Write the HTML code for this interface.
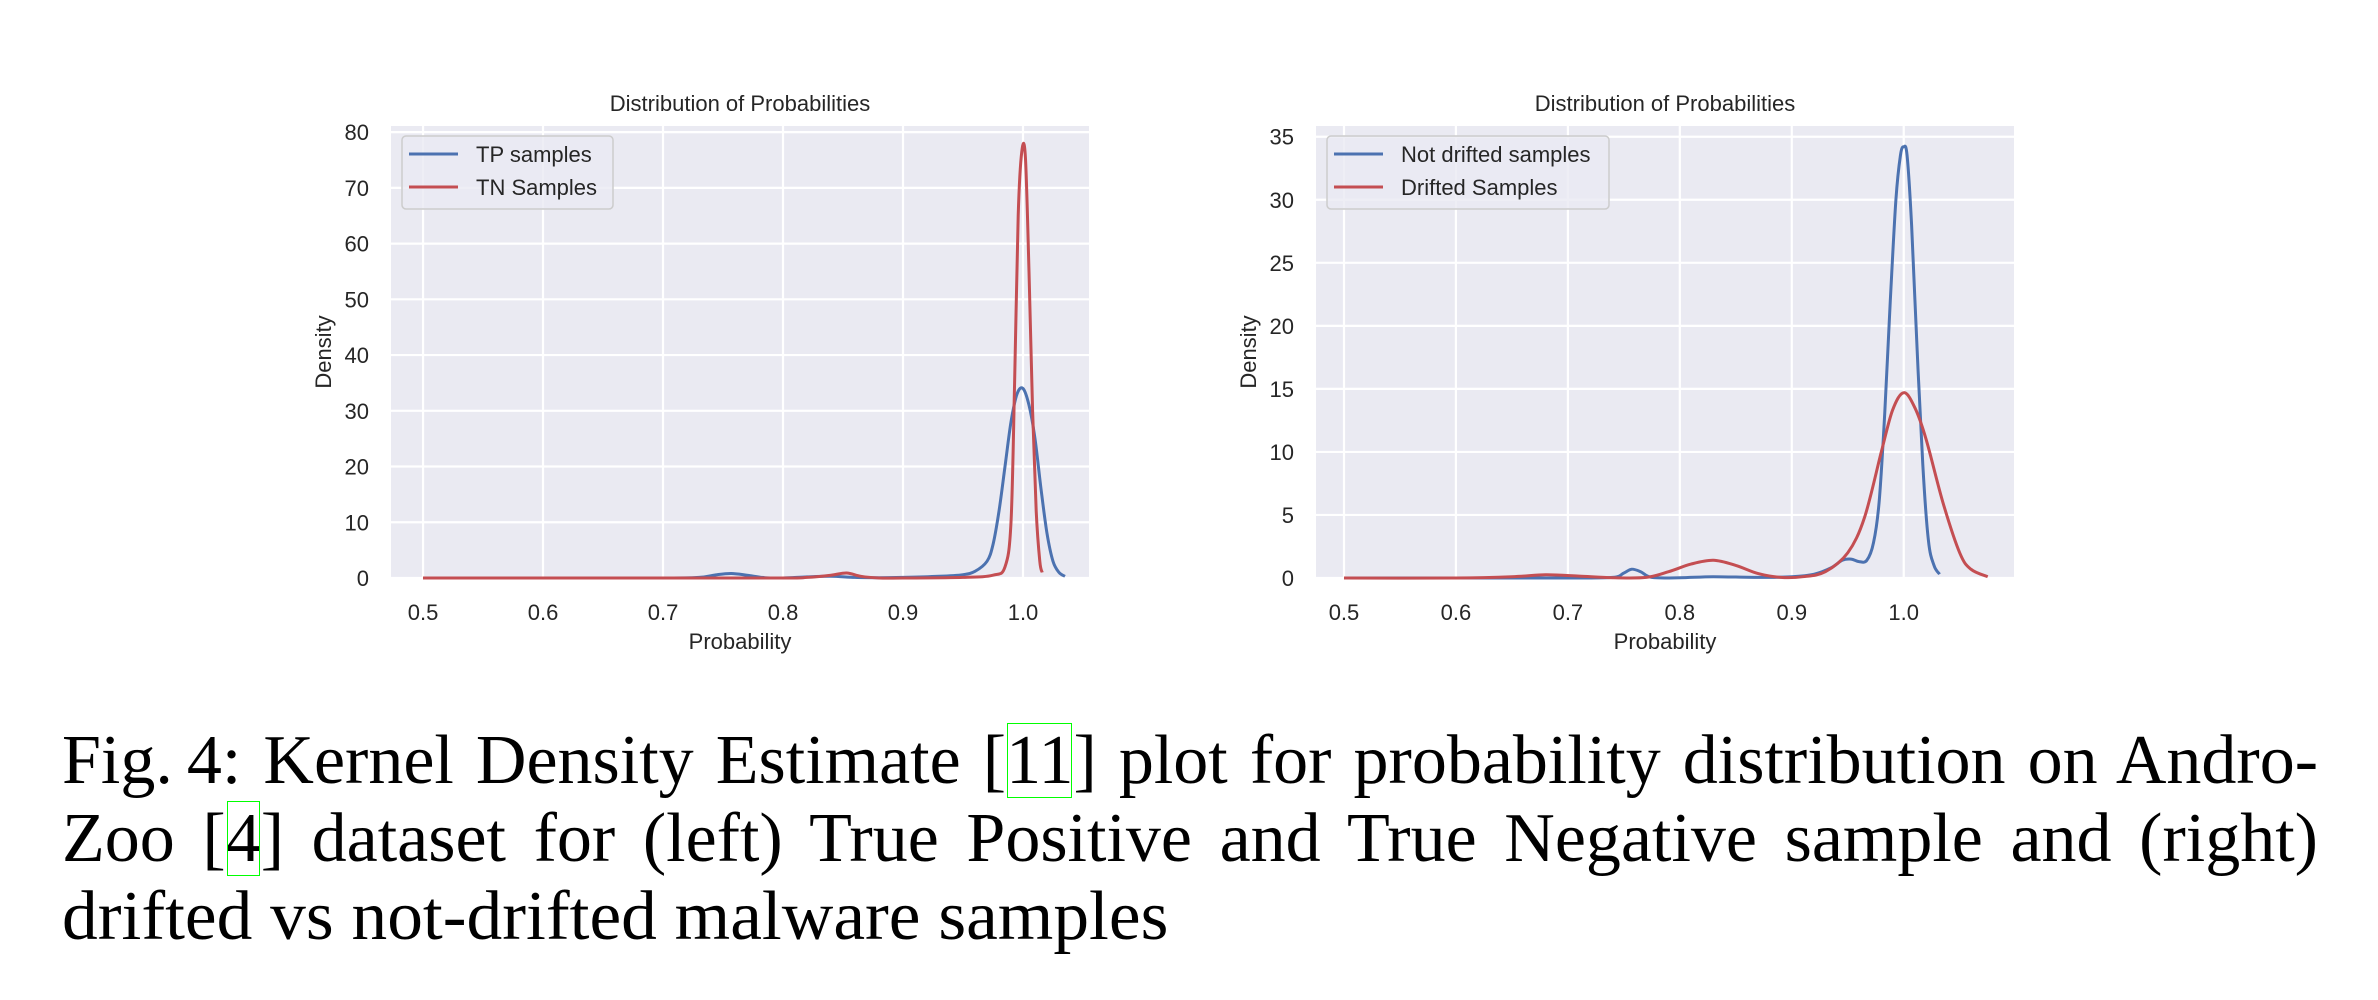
<!DOCTYPE html>
<html><head><meta charset="utf-8"><style>
html,body{margin:0;padding:0;background:#fff;width:2378px;height:1000px;overflow:hidden}
svg text{font-family:"Liberation Sans",sans-serif;fill:#262626}
.cap{position:absolute;left:62px;width:2256px;font-family:"Liberation Serif",serif;font-size:70px;color:#000;white-space:nowrap;line-height:1}
.j{text-align:justify;text-align-last:justify}
.ref{outline:1.5px solid #00ff00;outline-offset:-2px}
</style></head><body>
<svg id="fig" width="2378" height="660" style="position:absolute;left:0;top:0"></svg>
<div class="cap j" style="top:726px">Fig.&#8201;4: Kernel Density Estimate [<span class="ref">11</span>] plot for probability distribution on Andro-</div>
<div class="cap j" style="top:804px">Zoo [<span class="ref">4</span>] dataset for (left) True Positive and True Negative sample and (right)</div>
<div class="cap" style="top:882px;width:auto;transform:scaleX(1.02);transform-origin:0 0">drifted vs not-drifted malware samples</div>
<script>
// Left chart data
const leftXTicks=[0.5,0.6,0.7,0.8,0.9,1.0];
const leftYTicks=[0,10,20,30,40,50,60,70,80];
const tpX=[0.5,0.6,0.7,0.73,0.745,0.757,0.77,0.785,0.8,0.82,0.84,0.86,0.88,0.9,0.93,0.95,0.96,0.97,0.975,0.98,0.985,0.99,0.995,1.0,1.005,1.01,1.015,1.02,1.025,1.03,1.035];
const tpY=[0,0,0,0.1,0.6,0.8,0.5,0.05,0,0.2,0.3,0.1,0.05,0.1,0.3,0.6,1.2,3,6,12,20,28,33,34,31,25,16,8,3,1,0.3];
const tnX=[0.5,0.6,0.7,0.8,0.82,0.84,0.853,0.865,0.88,0.9,0.95,0.975,0.985,0.99,0.993,0.996,0.999,1.002,1.005,1.008,1.011,1.014,1.016];
const tnY=[0,0,0,0,0.1,0.5,0.9,0.3,0,0,0.1,0.5,2,10,35,65,76.5,75.5,55,30,12,3,1];
// Right chart data
const rightXTicks=[0.5,0.6,0.7,0.8,0.9,1.0];
const rightYTicks=[0,5,10,15,20,25,30,35];
const ndX=[0.5,0.6,0.7,0.74,0.75,0.757,0.765,0.775,0.8,0.83,0.87,0.9,0.92,0.935,0.945,0.953,0.96,0.967,0.973,0.978,0.983,0.988,0.993,0.997,1.0,1.003,1.007,1.012,1.017,1.022,1.027,1.032];
const ndY=[0,0,0,0.05,0.4,0.7,0.5,0.05,0.02,0.1,0.05,0.1,0.3,0.8,1.4,1.5,1.3,1.4,2.8,6,13,22,30,33.5,34.2,33.5,28,18,9,3,1,0.3];
const drX=[0.5,0.6,0.65,0.68,0.71,0.74,0.77,0.79,0.81,0.83,0.85,0.87,0.89,0.91,0.93,0.95,0.965,0.98,0.99,1.0,1.01,1.02,1.035,1.05,1.06,1.075];
const drY=[0,0,0.1,0.25,0.15,0.02,0.05,0.5,1.1,1.4,1.0,0.35,0.05,0.1,0.5,2,4.8,10,13.3,14.7,13.5,11,6,2,0.7,0.1];

const NS='http://www.w3.org/2000/svg';
const svg=document.getElementById('fig');
function mk(tag,attrs,parent){const e=document.createElementNS(NS,tag);for(const k in attrs)e.setAttribute(k,attrs[k]);(parent||svg).appendChild(e);return e;}
function path(xs,ys,sx,sy){const p=xs.map((x,i)=>[sx(x),sy(ys[i])]);let d='M'+p[0][0].toFixed(1)+','+p[0][1].toFixed(1);
 for(let i=0;i<p.length-1;i++){const p0=p[i-1]||p[i],p1=p[i],p2=p[i+1],p3=p[i+2]||p2;
  const c1=[p1[0]+(p2[0]-p0[0])/6,p1[1]+(p2[1]-p0[1])/6],c2=[p2[0]-(p3[0]-p1[0])/6,p2[1]-(p3[1]-p1[1])/6];
  d+=' C'+c1.map(v=>v.toFixed(1))+' '+c2.map(v=>v.toFixed(1))+' '+p2.map(v=>v.toFixed(1));}
 return d;}
function chart(o){
 const g=mk('g',{});
 
 
 const sx=x=>o.L+(x-o.xmin)/(o.xmax-o.xmin)*(o.R-o.L);
 const sy=y=>o.B-(y/o.ymax)*(o.B-o.T);
 const bg=mk('rect',{x:o.L,y:o.T,width:o.R-o.L,height:o.B-o.T,fill:'#eaeaf2'},g);
 
 
 o.xt.forEach(t=>{const l=mk('line',{x1:sx(t),x2:sx(t),y1:o.T,y2:o.B,stroke:'#fff','stroke-width':2.2},g);
  
  
  const tx=mk('text',{x:sx(t),y:620,'text-anchor':'middle','font-size':22},g);tx.textContent=t.toFixed(1);
  
  });
 o.yt.forEach(t=>{const l=mk('line',{x1:o.L,x2:o.R,y1:sy(t),y2:sy(t),stroke:'#fff','stroke-width':2.2},g);
  
  
  const tx=mk('text',{x:o.L-22,y:sy(t)+8,'text-anchor':'end','font-size':22},g);tx.textContent=t;
  
  });
 o.series.forEach(s=>{const p=mk('path',{d:path(s.x,s.y,sx,sy),fill:'none',stroke:s.c,'stroke-width':3,'stroke-linejoin':'round'},g);
  
  });
 const t=mk('text',{x:(o.L+o.R)/2,y:111,'text-anchor':'middle','font-size':22},g);t.textContent='Distribution of Probabilities';
 
 
 const xl=mk('text',{x:(o.L+o.R)/2,y:649,'text-anchor':'middle','font-size':22},g);xl.textContent='Probability';
 
 
 const yl=mk('text',{x:0,y:0,'text-anchor':'middle','font-size':22,transform:'translate('+(o.ylx)+','+((o.T+o.B)/2)+') rotate(-90)'},g);yl.textContent='Density';
 
 
 const lg=mk('g',{},g);
 
 
 mk('rect',{x:o.L+11,y:136,width:o.lw,height:73,rx:4,fill:'#eaeaf2','fill-opacity':0.8,stroke:'#cccccc','stroke-width':1.5},lg);
 o.series.forEach((s,i)=>{const y=154+i*33;
  const e=mk('g',{},lg);
  
  
  mk('line',{x1:o.L+18,x2:o.L+67,y1:y,y2:y,stroke:s.c,'stroke-width':3},e);
  const tx=mk('text',{x:o.L+85,y:y+8,'font-size':22},e);tx.textContent=s.label;});
}
chart({name:'left-chart',L:391,R:1089,T:126,B:578,xmin:0.4733,xmax:1.055,ymax:81.1,xt:leftXTicks,yt:leftYTicks,ylx:331,lw:211,
 series:[{x:tpX,y:tpY,c:'#4c72b0',label:'TP samples',name:'tp-line'},{x:tnX,y:tnY,c:'#c44e52',label:'TN Samples',name:'tn-line'}]});
chart({name:'right-chart',L:1316,R:2014,T:126,B:578,xmin:0.475,xmax:1.0985,ymax:35.85,xt:rightXTicks,yt:rightYTicks,ylx:1256,lw:282,
 series:[{x:ndX,y:ndY,c:'#4c72b0',label:'Not drifted samples',name:'not-drifted-line'},{x:drX,y:drY,c:'#c44e52',label:'Drifted Samples',name:'drifted-line'}]});
</script>
</body></html>
